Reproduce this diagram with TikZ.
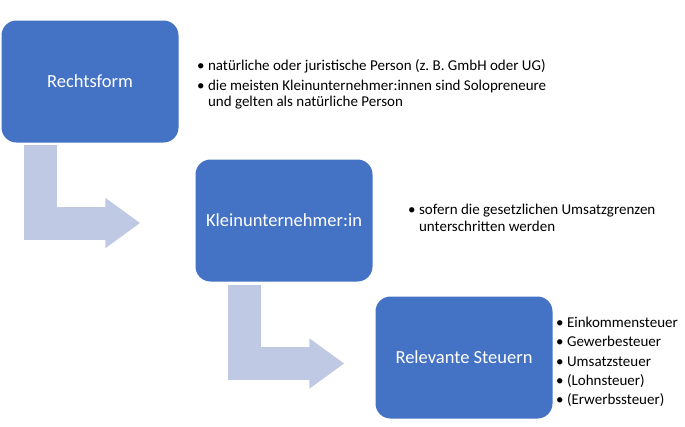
\documentclass[tikz,border=0pt]{standalone}
\usepackage{fontspec}
\setmainfont{Carlito}
\usepackage{xcolor}
\usepackage{tikz}
\usetikzlibrary{arrows.meta}

\definecolor{boxblue}{RGB}{68,114,196}
\definecolor{flowblue}{RGB}{191,201,228}

\begin{document}
\begin{tikzpicture}[
    x = 1pt, y = -1pt,
    box/.style = {
        fill=boxblue, rounded corners=15pt, text=white,
        minimum width=177pt, minimum height=122pt,
        font=\fontsize{18.5}{22}\selectfont
    },
    note/.style = {
        anchor=north west, align=left, inner sep=0pt,
        font=\fontsize{15}{17}\selectfont\frenchspacing
    },
    flow/.style = {
        draw=flowblue, line width=33pt, line join=miter,
        -{Triangle[length=35pt, width=48pt]}
    }
  ]
    \useasboundingbox (0,0) rectangle (685,426);

    \node[box] (rf) at (90,81.5) {Rechtsform};  % Schritt 1
    \node[box] (kl) at (284,220.5) {Kleinunternehmer:in};  % Schritt 2
    \node[box] (rs) at (464,357.5) {Relevante Steuern};  % Schritt 3

    \node[note, font=\fontsize{15}{16}\selectfont\frenchspacing] (rfnote) at (197,59) {\textbullet\ natürliche oder juristische Person (z. B. GmbH oder UG)\\[4pt]
        \textbullet\ die meisten Kleinunternehmer:innen sind Solopreneure\\
        \phantom{\textbullet\ }und gelten als natürliche Person};
    \node[note] (klnote) at (408,204) {\textbullet\ sofern die gesetzlichen Umsatzgrenzen\\
        \phantom{\textbullet\ }unterschritten werden};
    \node[note, font=\fontsize{15}{19.25}\selectfont] (rsnote) at (556,317) {\textbullet\ Einkommensteuer\\
        \textbullet\ Gewerbesteuer\\
        \textbullet\ Umsatzsteuer\\
        \textbullet\ (Lohnsteuer)\\
        \textbullet\ (Erwerbssteuer)};

    \draw[flow] ([xshift=-49.5pt, yshift=-2pt]rf.south) |- ([xshift=-55pt, yshift=-2.5pt]kl.west);  % Pfeil 1
    \draw[flow] ([xshift=-39.5pt, yshift=-3pt]kl.south) |- ([xshift=-31pt, yshift=-6pt]rs.west);  % Pfeil 2
\end{tikzpicture}
\end{document}
